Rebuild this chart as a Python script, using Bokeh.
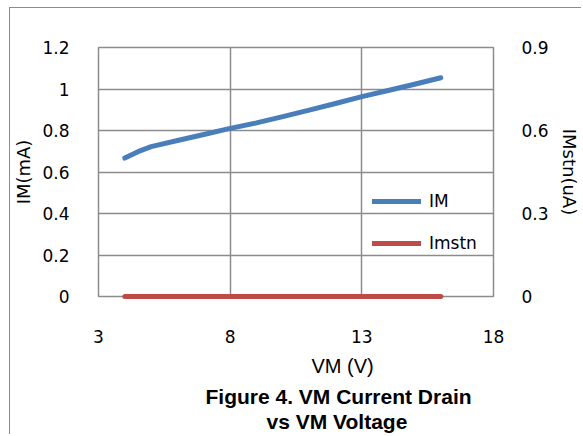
from bokeh.plotting import figure
from bokeh.models import Range1d, LinearAxis, FixedTicker, Title, Legend, LegendItem
from bokeh.embed import file_html
from bokeh.resources import INLINE

# ---- data ----
VM = [4, 4.5, 5, 6, 7, 8, 9, 10, 11, 12, 13, 14, 15, 16]
IM = [0.667, 0.698, 0.722, 0.752, 0.781, 0.810, 0.837, 0.867, 0.898, 0.930, 0.963, 0.993, 1.023, 1.054]
IMSTN = [0, 0, 0, 0, 0, 0, 0, 0, 0, 0, 0, 0, 0, 0]
SERIES_NAMES = ["IM", "Imstn"]

X_TICKS = [3, 8, 13, 18]
IM_TICKS = [0, 0.2, 0.4, 0.6, 0.8, 1.0, 1.2]
IM_TICK_LABELS = ["0", "0.2", "0.4", "0.6", "0.8", "1", "1.2"]
STN_TICKS = [0, 0.3, 0.6, 0.9]
STN_TICK_LABELS = ["0", "0.3", "0.6", "0.9"]

X_LABEL = "VM (V)"
Y_LABEL = "IM(mA)"
Y2_LABEL = "IMstn(uA)"
TITLE_LINES = ["Figure 4.  VM Current Drain", "vs VM Voltage"]

GRID = "#8c8c8c"
BLUE = "#4A7EBB"
RED = "#BE4B48"
TICK_FONT = "DejaVu Sans"

p = figure(width=572, height=427, output_backend="svg", toolbar_location=None,
           x_range=Range1d(3, 18), y_range=Range1d(0, 1.2),
           min_border_left=86, min_border_right=82, min_border_top=39, min_border_bottom=139)
p.styles = {"margin-left": "9px", "margin-top": "7px",
            "border-left": "1px solid #8c8c8c", "border-top": "1px solid #8c8c8c"}
p.background_fill_color = "white"
p.border_fill_color = "white"
p.outline_line_color = GRID
p.outline_line_width = 1.5
p.extra_y_ranges = {"stn": Range1d(0, 0.9)}

# axes
xa = p.xaxis[0]
xa.ticker = FixedTicker(ticks=X_TICKS)
xa.major_label_standoff = 27

ya = p.yaxis[0]
ya.ticker = FixedTicker(ticks=IM_TICKS)
ya.major_label_overrides = dict(zip(IM_TICKS, IM_TICK_LABELS))
ya.axis_label = Y_LABEL
ya.major_label_standoff = 23
ya.axis_label_standoff = 5

ya2 = LinearAxis(y_range_name="stn", ticker=FixedTicker(ticks=STN_TICKS),
                 major_label_overrides=dict(zip(STN_TICKS, STN_TICK_LABELS)),
                 axis_label=Y2_LABEL)
ya2.major_label_standoff = 22
ya2.axis_label_standoff = 7
p.add_layout(ya2, "right")

for ax in (xa, ya, ya2):
    ax.axis_line_color = None
    ax.major_tick_line_color = None
    ax.minor_tick_line_color = None
    ax.major_label_text_font = TICK_FONT
    ax.major_label_text_font_size = "17px"
    ax.major_label_text_color = "#000000"
    ax.axis_label_text_font = TICK_FONT
    ax.axis_label_text_font_size = "18px"
    ax.axis_label_text_font_style = "normal"
    ax.axis_label_text_color = "#000000"

# grid
p.xgrid.ticker = FixedTicker(ticks=X_TICKS)
p.ygrid.ticker = FixedTicker(ticks=IM_TICKS)
p.grid.grid_line_color = GRID
p.grid.grid_line_width = 1.5

# series
r1 = p.line(VM, IM, line_color=BLUE, line_width=5, line_cap="round", line_join="round")
r2 = p.line(VM, IMSTN, y_range_name="stn", line_color=RED, line_width=5,
            line_cap="round", line_join="round", level="overlay")

legend = Legend(items=[LegendItem(label=SERIES_NAMES[0], renderers=[r1]),
                       LegendItem(label=SERIES_NAMES[1], renderers=[r2])],
                location=(274, 43), orientation="vertical",
                glyph_width=49, glyph_height=20, label_height=20, spacing=22,
                padding=0, margin=0, label_standoff=8,
                label_text_font=TICK_FONT, label_text_font_size="17px",
                label_text_color="#000000",
                border_line_color=None, background_fill_alpha=0)
p.add_layout(legend)

# x-axis title and figure caption below the plot (stacked title panels)
t_x = Title(text=X_LABEL, align="left", offset=213, vertical_align="bottom", standoff=15,
            text_font="Liberation Sans", text_font_size="20px", text_font_style="normal",
            text_color="#000000")
t_1 = Title(text=TITLE_LINES[0], align="left", offset=107, vertical_align="top", standoff=0,
            text_font="Liberation Sans", text_font_size="21px", text_font_style="bold",
            text_color="#000000")
t_2 = Title(text=TITLE_LINES[1], align="left", offset=168, vertical_align="top", standoff=0,
            text_font="Liberation Sans", text_font_size="21px", text_font_style="bold",
            text_color="#000000")
p.add_layout(t_x, "below")
p.add_layout(t_1, "below")
p.add_layout(t_2, "below")

open("out.html", "w").write(file_html(p, INLINE))
